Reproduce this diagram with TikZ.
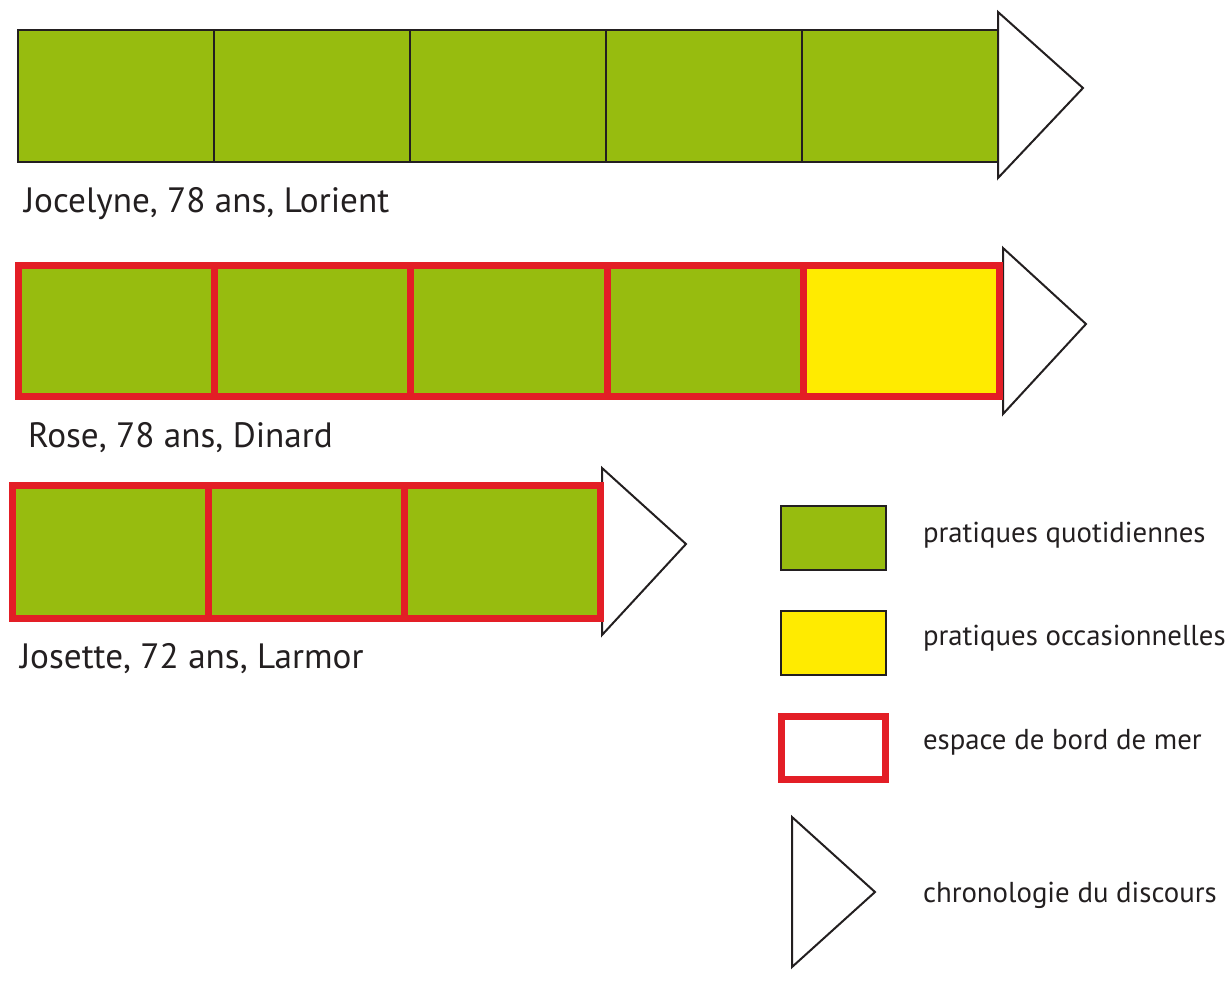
\documentclass[tikz,border=0pt]{standalone}
\usepackage{fontspec}
\setmainfont{PT Sans}
\usetikzlibrary{positioning}
\definecolor{c1}{HTML}{231F20}
\definecolor{cgreen}{HTML}{97BC0F}
\definecolor{cyellow}{HTML}{FFEB00}
\definecolor{cred}{HTML}{E31E26}

\begin{document}
\begin{tikzpicture}[
    x=1pt, y=-1pt,
    every node/.style={inner sep=0pt, outer sep=0pt},
    cell/.style={draw=c1, line width=1.5pt, fill=cgreen, minimum width=196pt, minimum height=132pt},
    shore/.style={draw=cred, line width=7pt, fill=cgreen, minimum width=196pt, minimum height=132pt},
    arrowtip/.style={draw=c1, line width=2pt, fill=white, line join=miter},
    who/.style={font=\fontsize{35.2}{42}\selectfont, text=c1, anchor=base west},
    lab/.style={font=\fontsize{28.8}{34}\selectfont, text=c1, anchor=base west},
]
\useasboundingbox (0,0) rectangle (1231,980);

% direction of the talk, drawn under the bars
\draw[arrowtip] (998,12) -- (1083,88) -- (998,178) -- cycle;
\draw[arrowtip] (1003,248) -- (1086,324) -- (1003,414) -- cycle;
\draw[arrowtip] (602,468) -- (686,544) -- (602,635) -- cycle;

% Jocelyne
\foreach \i in {1,...,5}
    \node[cell] (jo\i) at ({18+196*(\i-0.5)}, 96) {};
\node[who] (jocelyne) at (24, 212) {Jocelyne, 78 ans, Lorient};

% Rose: by the sea, last one occasional
\foreach \i/\col in {1/cgreen, 2/cgreen, 3/cgreen, 4/cgreen, 5/cyellow}
    \node[shore, fill=\col, minimum width=196.2pt, minimum height=131pt] (ro\i) at ({18.5+196.2*(\i-0.5)}, 331) {};
\node[who] (rose) at (28, 447) {Rose, 78 ans, Dinard};

% Josette
\foreach \i in {1,2,3}
    \node[shore, minimum height=133pt] (js\i) at ({12.5+196*(\i-0.5)}, 552) {};
\node[who] (josette) at (20, 668) {Josette, 72 ans, Larmor};

% legend
\node[cell, line width=2pt, minimum width=105pt, minimum height=64pt] (kday) at (833.5, 538) {};
\node[lab] (tday) at (923, 542) {pratiques quotidiennes};
\node[cell, line width=2pt, fill=cyellow, minimum width=105pt, minimum height=64pt] (kocc) at (833.5, 643) {};
\node[lab] (tocc) at (923, 645) {pratiques occasionnelles};
\node[shore, fill=white, minimum width=104pt, minimum height=63pt] (ksea) at (833.5, 748) {};
\node[lab] (tsea) at (923, 749) {espace de bord de mer};
\draw[arrowtip] (792,817) -- (875,892) -- (792,967) -- cycle;
\node[lab] (ttime) at (923, 902) {chronologie du discours};
\end{tikzpicture}
\end{document}
